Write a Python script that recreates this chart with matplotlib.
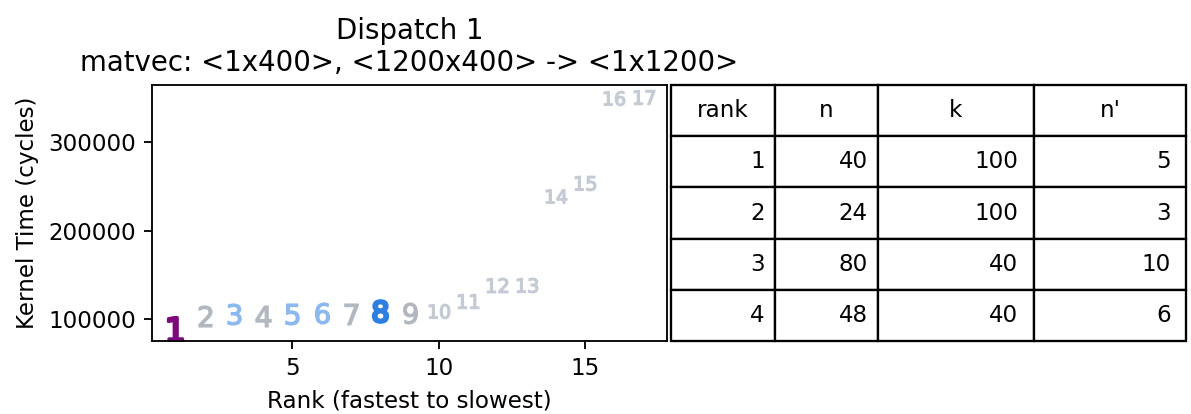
import matplotlib
matplotlib.use("Agg")
import matplotlib.pyplot as plt

# kernel timings for each candidate config, sorted fastest first
ranks = list(range(1, 18))
kernel_cycles = [88800, 103700, 105600, 103700, 105600, 107500, 105600, 109300,
                 107500, 109300, 120600, 139300, 139300, 238500, 253600, 349100, 350900]

# top configs shown in the table
table_header = ["rank", "n", "k", "n'"]
table_rank = [1, 2, 3, 4]
table_n = [40, 24, 80, 48]
table_k = [100, 100, 40, 40]
table_nprime = [5, 3, 10, 6]

title = "Dispatch 1\nmatvec: <1x400>, <1200x400> -> <1x1200>"

# marker colour per rank
PURPLE = "#7d0a7d"
BLUE = "#2f7fe0"
LIGHT_BLUE = "#8ab8ef"
GRAY = "#b2b8bf"
FADED = "#c4cbd5"
colors = {1: PURPLE, 8: BLUE, 3: LIGHT_BLUE, 5: LIGHT_BLUE, 6: LIGHT_BLUE,
          2: GRAY, 4: GRAY, 7: GRAY, 9: GRAY}

DPI = 166
fig = plt.figure(figsize=(1191 / DPI, 414 / DPI), dpi=DPI)
ax = fig.add_axes([152 / 1191, 1 - 341 / 414, 515 / 1191, 256 / 414])

for r, cyc in zip(ranks, kernel_cycles):
    c = colors.get(r, FADED)
    ms = 10.4 if r == 1 else (9.4 if r == 8 else 9.0)
    mew = 1.3 if r in (1, 8) else 0.6
    ax.plot(r, cyc, linestyle="none", marker=f"${r}$", markersize=ms,
            color=c, markeredgecolor=c, markeredgewidth=mew)

ax.set_title(title)
ax.set_xlabel("Rank (fastest to slowest)")
ax.set_ylabel("Kernel Time (cycles)")
ax.set_xticks([5, 10, 15])
ax.set_yticks([100000, 200000, 300000])

cells = [[str(a), str(b), str(c), str(d)]
         for a, b, c, d in zip(table_rank, table_n, table_k, table_nprime)]
tbl = ax.table(cellText=cells, colLabels=table_header,
               colWidths=[0.202, 0.2, 0.302, 0.296],
               bbox=[1.008, 0.0, 1.0, 1.0])
tbl.auto_set_font_size(False)
tbl.set_fontsize(10)

fig.savefig("out.png", dpi=DPI)
